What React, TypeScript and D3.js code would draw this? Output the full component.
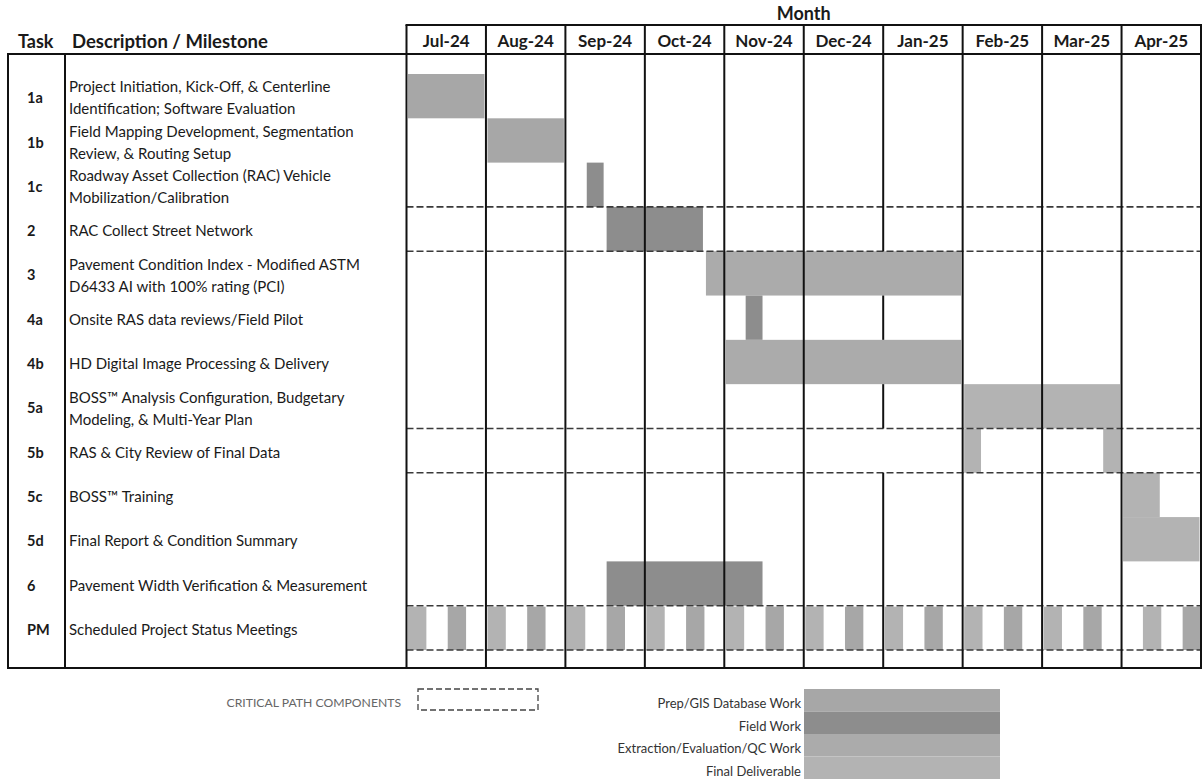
import React from "react";
import * as d3 from "d3";

const months = ["Jul-24", "Aug-24", "Sep-24", "Oct-24", "Nov-24", "Dec-24", "Jan-25", "Feb-25", "Mar-25", "Apr-25"];
const tasks = ["1a", "1b", "1c", "2", "3", "4a", "4b", "5a", "5b", "5c", "5d", "6", "PM"];
const descriptions = [
  ["Project Initiation, Kick-Off, & Centerline", "Identification; Software Evaluation"],
  ["Field Mapping Development, Segmentation", "Review, & Routing Setup"],
  ["Roadway Asset Collection (RAC) Vehicle", "Mobilization/Calibration"],
  ["RAC Collect Street Network"],
  ["Pavement Condition Index - Modified ASTM", "D6433 AI with 100% rating (PCI)"],
  ["Onsite RAS data reviews/Field Pilot"],
  ["HD Digital Image Processing & Delivery"],
  ["BOSS\u2122 Analysis Configuration, Budgetary", "Modeling, & Multi-Year Plan"],
  ["RAS & City Review of Final Data"],
  ["BOSS\u2122 Training"],
  ["Final Report & Condition Summary"],
  ["Pavement Width Verification & Measurement"],
  ["Scheduled Project Status Meetings"],
];
const categories = ["Prep/GIS Database Work", "Field Work", "Extraction/Evaluation/QC Work", "Final Deliverable"];
const categoryColors = ["#a7a7a7", "#8d8d8d", "#ababab", "#b3b3b3"];

// start / end in months from Jul-24, category index
const taskBars = [
  { task: "1a", start: 0, end: 1, cat: 0 },
  { task: "1b", start: 1, end: 2, cat: 0 },
  { task: "1c", start: 2.25, end: 2.5, cat: 1 },
  { task: "2", start: 2.5, end: 3.75, cat: 1 },
  { task: "3", start: 3.75, end: 7, cat: 2 },
  { task: "4a", start: 4.25, end: 4.5, cat: 1 },
  { task: "4b", start: 4, end: 7, cat: 2 },
  { task: "5a", start: 7, end: 9, cat: 3 },
  { task: "5b", start: 7, end: 7.25, cat: 3 },
  { task: "5b", start: 8.75, end: 9, cat: 3 },
  { task: "5c", start: 9, end: 9.5, cat: 3 },
  { task: "5d", start: 9, end: 10, cat: 3 },
  { task: "6", start: 2.5, end: 4.5, cat: 1 },
];
const meetingStarts = [0, 0.5, 1, 1.5, 2, 2.5, 3, 3.5, 4, 4.5, 5, 5.5, 6, 6.5, 7, 7.5, 8, 8.5, 9.25, 9.75];
const meetingCats = [3, 0, 3, 0, 3, 0, 3, 0, 3, 0, 3, 0, 3, 0, 3, 0, 3, 0, 3, 0];
const meetingLength = 0.25;
const criticalTasks = ["2", "5b", "PM"];
// month borders that are not drawn through some task rows
const hiddenBorders = [{ month: 6, tasks: ["3", "4b", "5b"] }];

const FONT = "Lato, 'Open Sans', sans-serif";

export default function App() {
  const W = 1202, H = 780;
  const x = d3.scaleLinear().domain([0, months.length]).range([406.5, 1201]);
  const y = d3.scaleBand<string>().domain(tasks).range([74, 650]).padding(0);
  const bw = y.bandwidth();
  const headerTop = 25, headerBottom = 54, tableBottom = 668;
  const leftX = 8, taskDiv = 65;
  const monthTicks = d3.range(0, months.length + 1);

  const criticalYs: number[] = [];
  criticalTasks.forEach((t) => {
    criticalYs.push(y(t)!, y(t)! + bw);
  });

  const vSegments: { x: number; y1: number; y2: number }[] = [];
  monthTicks.forEach((m) => {
    const hb = hiddenBorders.find((h) => h.month === m);
    if (!hb) {
      vSegments.push({ x: x(m), y1: headerTop, y2: tableBottom });
    } else {
      let cur = headerTop;
      tasks.forEach((t) => {
        if (hb.tasks.includes(t)) {
          vSegments.push({ x: x(m), y1: cur, y2: y(t)! });
          cur = y(t)! + bw;
        }
      });
      vSegments.push({ x: x(m), y1: cur, y2: tableBottom });
    }
  });

  return (
    <svg width={W} height={H} style={{ position: "absolute", left: 0, top: 0, background: "#fff" }} fontFamily={FONT}>
      <rect x={0} y={0} width={W} height={H} fill="#fff" />
      {/* Header texts */}
      <text x={(x(0) + x(months.length)) / 2} y={20} textAnchor="middle" fontSize={18} fontWeight="bold" fill="#1a1a1a">Month</text>
      <text x={18} y={48} fontSize={18} fontWeight="bold" fill="#1a1a1a">Task</text>
      <text x={72} y={48} fontSize={18.5} fontWeight="bold" fill="#1a1a1a">Description / Milestone</text>
      {months.map((m, i) => (
        <text key={m} x={(x(i) + x(i + 1)) / 2} y={47} textAnchor="middle" fontSize={17} fontWeight="bold" fill="#1a1a1a">{m}</text>
      ))}

      {/* Bars */}
      {taskBars.map((b, i) => (
        <rect key={"b" + i} x={x(b.start) + 1.5} y={y(b.task)!} width={x(b.end) - x(b.start) - 3} height={bw} fill={categoryColors[b.cat]} />
      ))}
      {meetingStarts.map((s, i) => (
        <rect key={"m" + i} x={x(s) + 1.5} y={y("PM")! + 1} width={x(s + meetingLength) - x(s) - 1.5} height={bw - 1} fill={categoryColors[meetingCats[i]]} />
      ))}

      {/* Critical path dashed lines */}
      {criticalYs.map((cy, i) => (
        <line key={"c" + i} x1={x(0)} x2={x(months.length)} y1={cy} y2={cy} stroke="#3a3a3a" strokeWidth={1.6} strokeDasharray="7,3" />
      ))}

      {/* Grid */}
      {vSegments.map((s, i) => (
        <line key={"v" + i} x1={s.x} x2={s.x} y1={s.y1} y2={s.y2} stroke="#111" strokeWidth={2} />
      ))}
      <line x1={x(0) - 1} x2={x(months.length) + 1} y1={headerTop} y2={headerTop} stroke="#111" strokeWidth={2} />
      <line x1={leftX - 1} x2={x(months.length) + 1} y1={headerBottom} y2={headerBottom} stroke="#111" strokeWidth={2} />
      <line x1={leftX - 1} x2={x(months.length) + 1} y1={tableBottom} y2={tableBottom} stroke="#111" strokeWidth={2} />
      <line x1={leftX} x2={leftX} y1={headerBottom} y2={tableBottom} stroke="#111" strokeWidth={2} />
      <line x1={taskDiv} x2={taskDiv} y1={headerBottom} y2={tableBottom} stroke="#111" strokeWidth={2} />

      {/* Task labels and descriptions */}
      {tasks.map((t, i) => {
        const cy = y(t)! + bw / 2 + 2;
        const lines = descriptions[i];
        return (
          <g key={"t" + t}>
            <text x={27} y={cy} dy="0.35em" fontSize={14.5} fontWeight="bold" fill="#1a1a1a">{t}</text>
            {lines.map((ln, j) => (
              <text key={j} x={69} y={cy + (j - (lines.length - 1) / 2) * 22} dy="0.35em" fontSize={15} fill="#1a1a1a">{ln}</text>
            ))}
          </g>
        );
      })}

      {/* Legend: critical path */}
      <text x={401} y={703} dy="0.35em" textAnchor="end" fontSize={12.2} fill="#666">CRITICAL PATH COMPONENTS</text>
      <rect x={418} y={689} width={120} height={21} fill="none" stroke="#444" strokeWidth={1.3} strokeDasharray="6,3" />

      {/* Legend: categories */}
      {categories.map((c, i) => {
        const sy = 689 + i * 22.5;
        return (
          <g key={"l" + c}>
            <rect x={804} y={sy} width={196} height={22.5} fill={categoryColors[i]} />
            <text x={801} y={sy + 14.5} dy="0.35em" textAnchor="end" fontSize={13} fill="#333">{c}</text>
          </g>
        );
      })}
    </svg>
  );
}
